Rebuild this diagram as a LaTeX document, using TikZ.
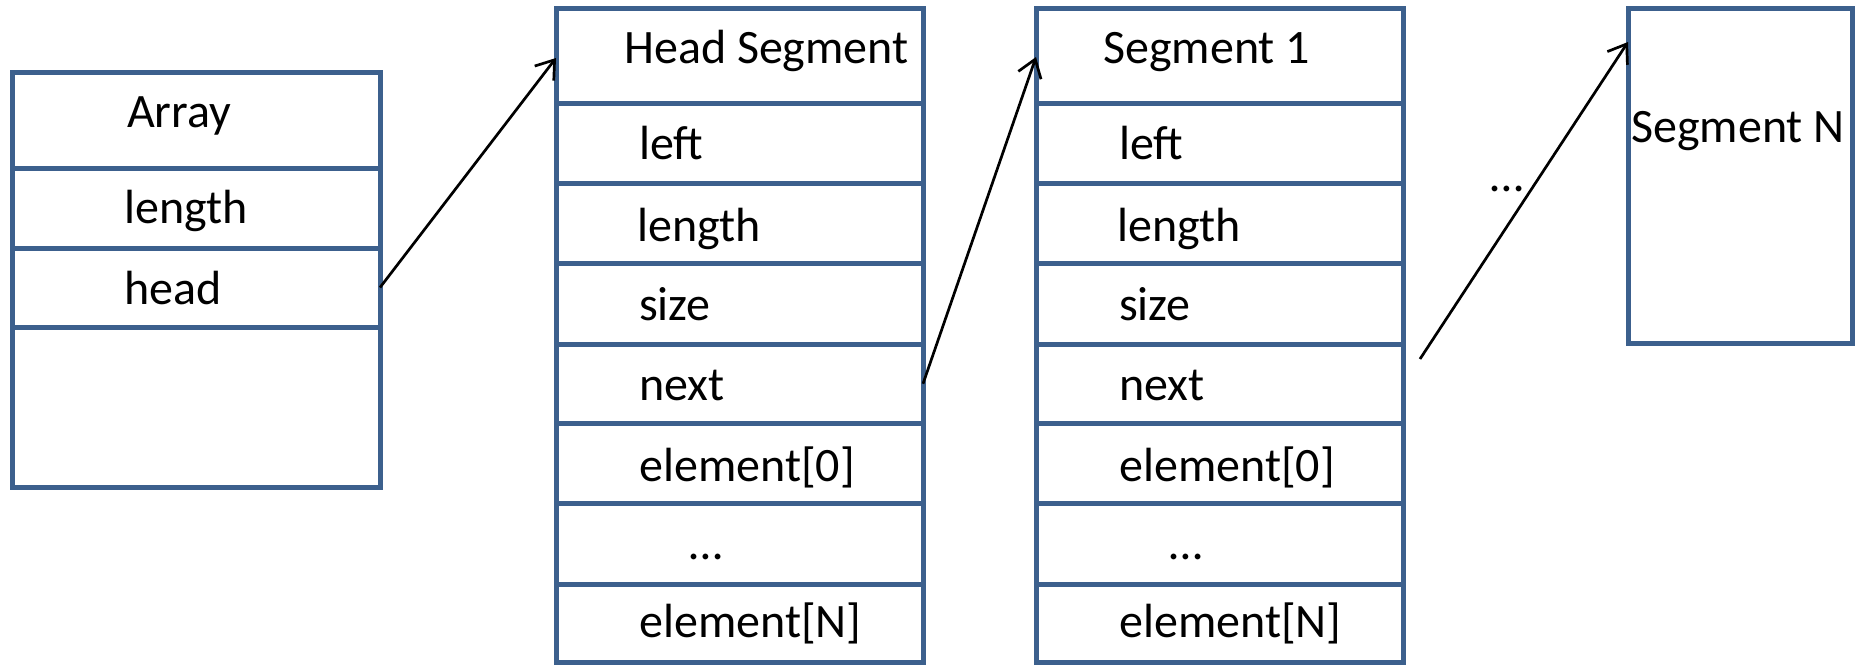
\documentclass[tikz,border=0pt]{standalone}
\usepackage{fontspec}
\setmainfont{Carlito}
\usetikzlibrary{arrows.meta,calc}
\definecolor{boxblue}{RGB}{60,96,141}
\tikzset{
  cellbox/.style={draw=boxblue, line width=5pt, rectangle, inner sep=0pt, outer sep=0pt, fill=none},
  lbl/.style={anchor=base west, inner sep=0pt, font=\fontsize{48}{57}\selectfont},
  ptr/.style={draw=black, line width=2.7pt, -{Straight Barb[length=17pt,width=24pt,line width=2.7pt]}}
}
% \cellnode{name}{left}{top}{right}{bottom}
\newcommand\cellnode[5]{%
  \node[cellbox, minimum width={(#4-#2)*1pt}, minimum height={(#5-#3)*1pt}]
    (#1) at ({(#2+#4)/2},{(#3+#5)/2}) {};}
\begin{document}
\begin{tikzpicture}[x=1pt,y=-1pt]
\useasboundingbox (0,0) rectangle (1858,664);

% Array header
\cellnode{arr0}{12}{72}{380}{168}
\cellnode{arr1}{12}{168}{380}{248}
\cellnode{arr2}{12}{248}{380}{327}
\cellnode{arr3}{12}{327}{380}{487}
\node[lbl] (t-arr0) at (127,127) {Array};
\node[lbl] (t-arr1) at (124,223) {length};
\node[lbl] (t-arr2) at (124,304) {head};

% Head segment
\cellnode{hs0}{556}{8.5}{923}{103.5}
\cellnode{hs1}{556}{103.5}{923}{183.5}
\cellnode{hs2}{556}{183.5}{923}{263.5}
\cellnode{hs3}{556}{263.5}{923}{344}
\cellnode{hs4}{556}{344}{923}{423.5}
\cellnode{hs5}{556}{423.5}{923}{503}
\cellnode{hs6}{556}{503}{923}{584}
\cellnode{hs7}{556}{584}{923}{662}
\node[lbl] (t-hs0) at (624,63) {Head Segment};
\node[lbl] (t-hs1) at (639,159) {left};
\node[lbl] (t-hs2) at (637,241) {length};
\node[lbl] (t-hs3) at (639,320) {size};
\node[lbl] (t-hs4) at (639,400) {next};
\node[lbl] (t-hs5) at (639,481) {element[0]};
\node[lbl] (t-hs6) at (689,559) {…};
\node[lbl] (t-hs7) at (639,637) {element[N]};

% Segment 1
\cellnode{sa0}{1036}{8.5}{1403}{103.5}
\cellnode{sa1}{1036}{103.5}{1403}{183.5}
\cellnode{sa2}{1036}{183.5}{1403}{263.5}
\cellnode{sa3}{1036}{263.5}{1403}{344}
\cellnode{sa4}{1036}{344}{1403}{423.5}
\cellnode{sa5}{1036}{423.5}{1403}{503}
\cellnode{sa6}{1036}{503}{1403}{584}
\cellnode{sa7}{1036}{584}{1403}{662}
\node[lbl] (t-sa0) at (1103,63) {Segment 1};
\node[lbl] (t-sa1) at (1119,159) {left};
\node[lbl] (t-sa2) at (1117,241) {length};
\node[lbl] (t-sa3) at (1119,320) {size};
\node[lbl] (t-sa4) at (1119,400) {next};
\node[lbl] (t-sa5) at (1119,481) {element[0]};
\node[lbl] (t-sa6) at (1169,559) {…};
\node[lbl] (t-sa7) at (1119,637) {element[N]};

% Segment N
\cellnode{sn}{1628}{8}{1852}{343}
\node[lbl] (t-sn) at (1631,142) {Segment N};

% gap between segment 1 and segment N
\node[lbl] (t-gap) at (1490,191) {…};
\coordinate (gap-start) at (1420,359);

% pointers
\draw[ptr] (arr2.east) -- ([yshift=-2pt]hs0.west);
\draw[ptr] (hs4.east) -- ([yshift=-1pt]sa0.west);
\draw[ptr] (gap-start) -- ([yshift=-34pt]sn.north west);
\end{tikzpicture}
\end{document}
